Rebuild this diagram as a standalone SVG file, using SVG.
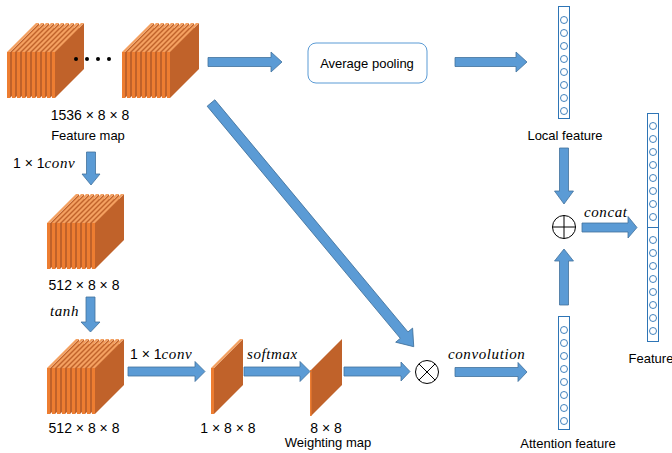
<svg xmlns="http://www.w3.org/2000/svg" xmlns:xlink="http://www.w3.org/1999/xlink" width="672" height="453" viewBox="0 0 672 453">
<style>
.t{font-family:"Liberation Sans",Arial,sans-serif;font-size:13px;fill:#000}
.n{font-family:"Liberation Sans",Arial,sans-serif;font-size:14px;fill:#000}
.m{font-family:"Liberation Serif","Times New Roman",serif;font-style:italic;font-size:15px;letter-spacing:0.6px;fill:#000}
.arr{fill:#5B9BD5;stroke:#41719C;stroke-width:0.8}
.col{fill:#fff;stroke:#2E75B6;stroke-width:1}
.dot{fill:#fff;stroke:#2E75B6;stroke-width:0.9}
.side{fill:#C0622A}
.front{fill:#ED7D31}
.top{fill:#F4A060}
</style>
<defs>
<g id="slab">
<polygon class="side" points="3,0 32,-29 32,17 3,46"/>
<polygon class="top" points="0,0 29,-29 32,-29 3,0"/>
<rect class="front" x="0" y="0" width="3" height="46"/>
</g>
<g id="block">
<use xlink:href="#slab" x="0"/><use xlink:href="#slab" x="5"/><use xlink:href="#slab" x="10"/><use xlink:href="#slab" x="15"/><use xlink:href="#slab" x="20"/><use xlink:href="#slab" x="25"/><use xlink:href="#slab" x="30"/><use xlink:href="#slab" x="35"/><use xlink:href="#slab" x="40"/><use xlink:href="#slab" x="45"/>
</g>
<g id="col8">
<circle class="dot" cx="0" cy="0" r="3.5"/><circle class="dot" cx="0" cy="13" r="3.5"/><circle class="dot" cx="0" cy="26" r="3.5"/><circle class="dot" cx="0" cy="39" r="3.5"/><circle class="dot" cx="0" cy="52" r="3.5"/><circle class="dot" cx="0" cy="65" r="3.5"/><circle class="dot" cx="0" cy="78" r="3.5"/><circle class="dot" cx="0" cy="91" r="3.5"/>
</g>
</defs>

<g id="feature-map">
<use xlink:href="#block" x="7" y="52"/>
<use xlink:href="#block" x="122" y="52"/>
<circle cx="76" cy="59" r="2"/><circle cx="87" cy="59" r="2"/><circle cx="98" cy="59" r="2"/><circle cx="109" cy="59" r="2"/>
<text class="n" x="90" y="120" text-anchor="middle">1536 × 8 × 8</text>
<text class="t" x="88" y="140" text-anchor="middle">Feature map</text>
</g>

<g id="block-512a">
<use xlink:href="#block" x="47" y="223"/>
<text class="n" x="84" y="290" text-anchor="middle">512 × 8 × 8</text>
</g>

<g id="block-512b">
<use xlink:href="#block" x="47" y="368"/>
<text class="n" x="84" y="433" text-anchor="middle">512 × 8 × 8</text>
</g>

<g id="slab-1x8x8">
<use xlink:href="#slab" x="211" y="368"/>
<text class="n" x="228" y="433" text-anchor="middle">1 × 8 × 8</text>
</g>

<g id="weighting-map">
<polygon class="side" points="311,370 342,339 342,385 311,416"/>
<polygon class="front" points="310,370 311.5,370 311.5,416 310,416"/>
<text class="n" x="326" y="433" text-anchor="middle">8 × 8</text>
<text class="t" x="328" y="447" text-anchor="middle">Weighting map</text>
</g>

<g id="average-pooling">
<rect x="308" y="43" width="119" height="40" rx="8" fill="#fff" stroke="#5B9BD5" stroke-width="1"/>
<text class="t" x="367" y="68" text-anchor="middle">Average pooling</text>
</g>

<g id="local-feature">
<rect class="col" x="558.5" y="6.5" width="11" height="112"/>
<use xlink:href="#col8" x="564" y="20"/>
<text class="t" x="565" y="140" text-anchor="middle">Local feature</text>
</g>

<g id="attention-feature">
<rect class="col" x="558.5" y="316.5" width="11" height="113"/>
<use xlink:href="#col8" x="564" y="330"/>
<text class="t" x="568" y="448" text-anchor="middle">Attention feature</text>
</g>

<g id="feature">
<rect class="col" x="647.5" y="113.5" width="11" height="228"/>
<line x1="647.5" y1="227.5" x2="658.5" y2="227.5" stroke="#2E75B6" stroke-width="1"/>
<use xlink:href="#col8" x="653" y="126"/>
<use xlink:href="#col8" x="653" y="240"/>
<text class="t" x="651" y="363" text-anchor="middle">Feature</text>
</g>

<g id="otimes">
<circle cx="427" cy="372" r="11.5" fill="#fff" stroke="#000" stroke-width="1"/>
<line x1="418.9" y1="363.9" x2="435.1" y2="380.1" stroke="#000" stroke-width="1"/>
<line x1="435.1" y1="363.9" x2="418.9" y2="380.1" stroke="#000" stroke-width="1"/>
</g>

<g id="oplus">
<circle cx="564" cy="227" r="11.5" fill="#fff" stroke="#000" stroke-width="1"/>
<line x1="552.5" y1="227" x2="575.5" y2="227" stroke="#000" stroke-width="1"/>
<line x1="564" y1="215.5" x2="564" y2="238.5" stroke="#000" stroke-width="1"/>
</g>

<g id="connectors">
<polygon class="arr" points="208,57.5 271,57.5 271,52 282,62 271,72 271,66.5 208,66.5"/>
<polygon class="arr" points="455,57.5 516,57.5 516,52 527,62 516,72 516,66.5 455,66.5"/>
<polygon class="arr" points="86.5,152 95.5,152 95.5,174 100,174 91,185 82,174 86.5,174"/>
<polygon class="arr" points="86,297 95,297 95,322 100,322 90.5,332 81,322 86,322"/>
<polygon class="arr" points="128,367 195,367 195,361.5 205,371.5 195,381.5 195,376 128,376"/>
<polygon class="arr" points="244,367 300,367 300,361.5 310,371.5 300,381.5 300,376 244,376"/>
<polygon class="arr" points="344,367 401,367 401,362 410,371.5 401,381 401,376 344,376"/>
<polygon class="arr" points="455,367.5 518,367.5 518,362.5 527,372 518,381.5 518,376.5 455,376.5"/>
<polygon class="arr" points="559.5,148 568.5,148 568.5,191 573.5,191 564,204 554.5,191 559.5,191"/>
<polygon class="arr" points="559.5,305 568.5,305 568.5,261 573.5,261 564,249 554.5,261 559.5,261"/>
<polygon class="arr" points="582,223 628,223 628,216.5 637,227.5 628,238 628,232 582,232"/>
<polygon class="arr" transform="translate(211,103) rotate(50.24)" points="0,-5 302,-5 302,-11 317,0 302,11 302,5 0,5"/>
</g>

<g id="labels">
<text class="n" x="13" y="168">1 × 1<tspan class="m">conv</tspan></text>
<text class="m" x="50" y="316">tanh</text>
<text class="n" x="130" y="359">1 × 1<tspan class="m">conv</tspan></text>
<text class="m" x="247" y="359">softmax</text>
<text class="m" x="448" y="359">convolution</text>
<text class="m" x="584" y="217">concat</text>
</g>
</svg>
